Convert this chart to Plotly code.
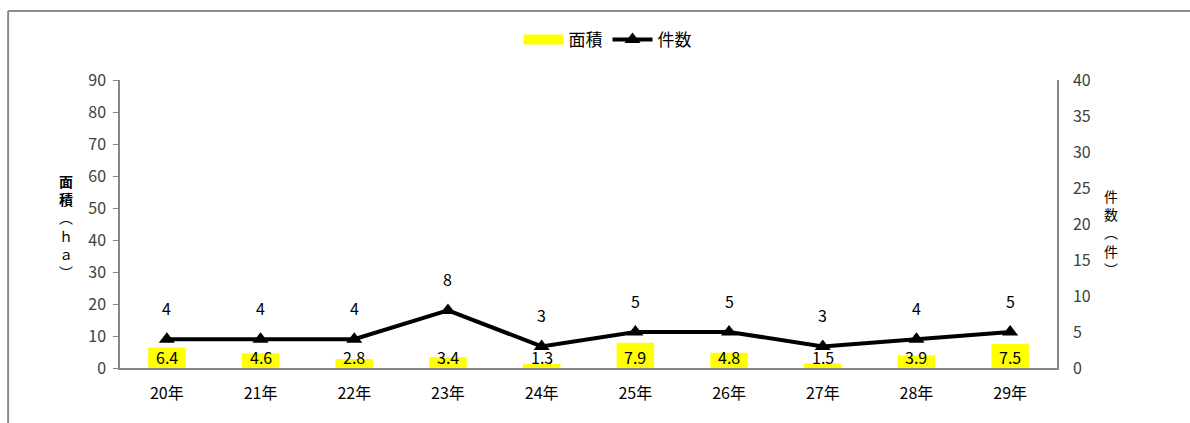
import plotly.graph_objects as go

categories = ["20年", "21年", "22年", "23年", "24年", "25年", "26年", "27年", "28年", "29年"]
area_ha = [6.4, 4.6, 2.8, 3.4, 1.3, 7.9, 4.8, 1.5, 3.9, 7.5]
counts = [4, 4, 4, 8, 3, 5, 5, 3, 4, 5]
left_ticks = [0, 10, 20, 30, 40, 50, 60, 70, 80, 90]
right_ticks = [0, 5, 10, 15, 20, 25, 30, 35, 40]

FONT = "Noto Sans CJK JP, Noto Sans, sans-serif"
AXIS_COLOR = "#868686"
TICK_COLOR = "#404040"
FS = 16

fig = go.Figure()
fig.add_trace(go.Bar(
    x=categories, y=area_ha, name="面積", marker=dict(color="#FFFF00", line=dict(width=0)),
    width=0.4, yaxis="y", showlegend=False,
))
# legend entry for the bars (wide yellow swatch)
fig.add_trace(go.Scatter(
    x=[None], y=[None], name="面積", mode="lines", yaxis="y",
    line=dict(color="#FFFF00", width=10), showlegend=True,
))
fig.add_trace(go.Scatter(
    x=categories, y=counts, name="件数", mode="lines+markers", yaxis="y2",
    line=dict(color="black", width=4),
    marker=dict(symbol="triangle-up", size=14, color="black"),
))

annotations = []
for c, v in zip(categories, area_ha):
    annotations.append(dict(x=c, y=0, xref="x", yref="y", text=f"{v}", showarrow=False,
                            yanchor="bottom", yshift=-3, font=dict(family=FONT, size=FS, color="black")))
for c, v in zip(categories, counts):
    annotations.append(dict(x=c, y=v, xref="x", yref="y2", text=f"{v}", showarrow=False,
                            yanchor="middle", yshift=31, font=dict(family=FONT, size=FS, color="black")))
annotations.append(dict(x=-0.058, y=0.49, xref="paper", yref="paper",
                        text="<b>面</b><br><b>積</b><br>︵<br>ｈ<br>ａ<br>︶", showarrow=False,
                        xanchor="center", yanchor="middle",
                        font=dict(family=FONT, size=14, color="black")))
annotations.append(dict(x=1.058, y=0.47, xref="paper", yref="paper",
                        text="件<br>数<br>︵<br>件<br>︶", showarrow=False,
                        xanchor="center", yanchor="middle",
                        font=dict(family=FONT, size=14, color="black")))

fig.update_layout(
    width=1190, height=423,
    margin=dict(l=120, r=133, t=80, b=55, autoexpand=False),
    paper_bgcolor="white", plot_bgcolor="white",
    font=dict(family=FONT, size=FS, color=TICK_COLOR),
    showlegend=True,
    legend=dict(orientation="h", x=0.5 + 19 / 937, xanchor="center", y=1 + 40 / 288, yanchor="middle",
                bgcolor="rgba(0,0,0,0)", itemwidth=40,
                font=dict(family=FONT, size=17, color="black"), traceorder="normal"),
    xaxis=dict(range=[-0.5, 9.5], showline=True, linecolor=AXIS_COLOR, linewidth=1.5, showgrid=False,
               ticks="", ticklabelstandoff=10, tickfont=dict(family=FONT, size=FS, color="black")),
    yaxis=dict(range=[0, 90], tickvals=left_ticks, showline=True, linecolor=AXIS_COLOR,
               linewidth=1.5, showgrid=False, zeroline=False, ticks="outside", ticklen=5,
               tickcolor=AXIS_COLOR, ticklabelstandoff=4,
               tickfont=dict(family=FONT, size=FS, color=TICK_COLOR)),
    yaxis2=dict(range=[0, 40], tickvals=right_ticks, overlaying="y", side="right",
                showline=True, linecolor=AXIS_COLOR, linewidth=1.5, showgrid=False,
                zeroline=False, ticks="", ticklabelstandoff=11,
                tickfont=dict(family=FONT, size=FS, color=TICK_COLOR)),
    annotations=annotations,
    shapes=[
        dict(type="line", xref="paper", yref="paper", x0=-0.1194, x1=1.2, y0=1 + 69 / 288, y1=1 + 69 / 288,
             line=dict(color="#8c8c8c", width=2)),
        dict(type="line", xref="paper", yref="paper", x0=-0.1194, x1=-0.1194, y0=-0.2, y1=1 + 69 / 288,
             line=dict(color="#8c8c8c", width=2)),
    ],
)

fig.write_html("out.html")
